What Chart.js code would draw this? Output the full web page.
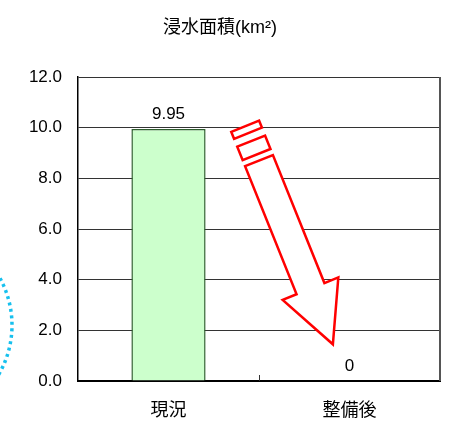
<!DOCTYPE html>
<html>
<head>
<meta charset="utf-8">
<script src="https://cdn.jsdelivr.net/npm/chart.js@4.4.1/dist/chart.umd.min.js"></script>
<style>
  html, body { margin: 0; padding: 0; background: #fff; }
  #wrap { width: 450px; height: 430px; }
</style>
</head>
<body>
<div id="wrap"><canvas id="flood"></canvas></div>
<script>
// chart data
const categories = ["現況", "整備後"];
const floodArea = [9.95, 0];
const yTicks = [0, 2, 4, 6, 8, 10, 12];
const titleText = "浸水面積(km²)";

const FONT = "'Liberation Sans', 'Noto Sans CJK JP', sans-serif";

// value labels above the bars
const valueLabels = {
  id: "valueLabels",
  afterDatasetsDraw(chart) {
    const ctx = chart.ctx;
    const meta = chart.getDatasetMeta(0);
    ctx.save();
    ctx.font = "17px " + FONT;
    ctx.fillStyle = "#000";
    ctx.textAlign = "center";
    ctx.textBaseline = "bottom";
    meta.data.forEach((bar, i) => {
      ctx.fillText(String(floodArea[i]), bar.x, bar.y - 6);
    });
    ctx.restore();
  }
};

// frame, category tick, arrow and dotted circle
const decorations = {
  id: "decorations",
  afterDraw(chart) {
    const ctx = chart.ctx;
    const area = chart.chartArea;
    const x = chart.scales.x;
    const y = chart.scales.y;
    ctx.save();

    // right border
    ctx.strokeStyle = "#555";
    ctx.lineWidth = 2;
    ctx.beginPath();
    ctx.moveTo(area.right, area.top);
    ctx.lineTo(area.right, area.bottom);
    ctx.stroke();

    // tick between the categories
    const mid = Math.round(x.getPixelForValue(0.5)) + 0.5;
    ctx.strokeStyle = "#333";
    ctx.lineWidth = 1;
    ctx.beginPath();
    ctx.moveTo(mid, area.bottom);
    ctx.lineTo(mid, area.bottom - 6);
    ctx.stroke();

    // red block arrow
    const ox = x.getPixelForValue(0.5);
    const oy = y.getPixelForValue(8.7);
    const ang = Math.atan2(184, 74);
    const ux = Math.cos(ang), uy = Math.sin(ang);
    const vx = -uy, vy = ux;
    const P = (u, v) => [ox + u * ux + v * vx, oy + u * uy + v * vy];
    const shapes = [
      [P(-37, 15), P(-37, -15), P(-29.5, -15), P(-29.5, 15)],
      [P(-21, 15), P(-21, -15), P(-6.5, -15), P(-6.5, 15)],
      [P(0, 15), P(0, -15), P(138, -15), P(138, -30), P(198, 0), P(138, 30), P(138, 15)]
    ];
    ctx.lineWidth = 2.5;
    ctx.strokeStyle = "#ff0000";
    ctx.fillStyle = "#ffffff";
    ctx.lineJoin = "miter";
    shapes.forEach(pts => {
      ctx.beginPath();
      pts.forEach((p, i) => i ? ctx.lineTo(p[0], p[1]) : ctx.moveTo(p[0], p[1]));
      ctx.closePath();
      ctx.fill();
      ctx.stroke();
    });

    // dotted circle at the left edge
    ctx.strokeStyle = "#17c0ee";
    ctx.lineWidth = 3.5;
    ctx.setLineDash([3, 3.5]);
    ctx.beginPath();
    ctx.arc(area.left - 164, y.getPixelForValue(2.2), 98, -0.5, 0.55);
    ctx.stroke();
    ctx.restore();
  }
};

const context = document.getElementById("flood").getContext("2d");
const chart = new Chart(context, {
  type: "bar",
  data: {
    labels: categories,
    datasets: [{
      data: floodArea,
      backgroundColor: "#ccffcc",
      borderColor: "#2f5f2f",
      borderWidth: 1.5,
      categoryPercentage: 1,
      barPercentage: 0.41
    }]
  },
  options: {
    responsive: true,
    maintainAspectRatio: false,
    animation: false,
    layout: { padding: { left: 0, right: 10, top: 0, bottom: 0 } },
    plugins: {
      legend: { display: false },
      tooltip: { enabled: false },
      title: {
        display: true,
        text: titleText,
        color: "#000",
        font: { family: FONT, size: 18, weight: "normal", lineHeight: 1.2 },
        padding: { top: 17, bottom: 38.4 }
      }
    },
    scales: {
      x: {
        grid: { display: false, drawTicks: false },
        border: { color: "#000", width: 2 },
        ticks: { color: "#000", font: { family: FONT, size: 18 }, padding: 19 },
        afterFit(scale) { scale.height = 49; }
      },
      y: {
        min: 0,
        max: 12,
        afterBuildTicks(scale) { scale.ticks = yTicks.map(v => ({ value: v })); },
        grid: { color: "#333", lineWidth: 1, drawTicks: false },
        border: { color: "#000", width: 1.5 },
        ticks: {
          color: "#000",
          font: { family: FONT, size: 17 },
          padding: 16,
          callback: v => v.toFixed(1)
        },
        afterFit(scale) { scale.width = 78; }
      }
    }
  },
  plugins: [valueLabels, decorations]
});
</script>
</body>
</html>
